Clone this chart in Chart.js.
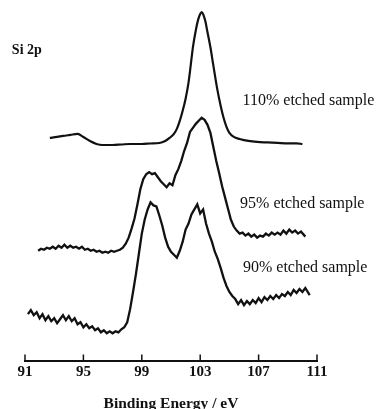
<!DOCTYPE html>
<html>
<head>
<meta charset="utf-8">
<script src="https://cdn.jsdelivr.net/npm/chart.js@4/dist/chart.umd.min.js"></script>
<style>
  html, body { margin: 0; padding: 0; background: #fff; }
  #wrap { width: 378px; height: 409px; }
</style>
</head>
<body>
<div id="wrap"><canvas id="xps_chart" width="378" height="409"></canvas></div>
<script>
// Si 2p spectra, binding energy (eV) against intensity (arbitrary units, stacked)
const energy_110 = [92.7, 93.2, 93.6, 94.1, 94.6, 95.0, 95.45, 95.9, 96.3, 97.0, 97.6, 98.2, 99.0, 99.6, 100.2,
    100.6, 100.9, 101.2, 101.4, 101.6, 101.8, 102.0, 102.2, 102.35, 102.5, 102.7, 102.85, 103.0, 103.1, 103.2,
    103.35, 103.5, 103.7, 103.9, 104.15, 104.4, 104.6, 104.8, 105.0, 105.3, 105.7, 106.3, 106.9, 107.6, 108.3,
    109.0, 109.6, 110.0]
const counts_110 = [221, 222, 223, 224, 225, 222, 218, 215, 214, 214, 214.5, 215, 215, 215.5, 216,
    218, 221, 225, 230, 238, 248, 260, 276, 293, 311, 328, 338, 344, 346, 344,
    337, 326, 311, 293, 271, 253, 241, 232, 226, 222, 220, 218, 217, 216.5, 216,
    215.5, 215.5, 215]

const energy_95 = [91.9, 92.1, 92.3, 92.5, 92.7, 92.9, 93.1, 93.3, 93.5, 93.7, 93.9, 94.1, 94.3, 94.5, 94.7,
    94.9, 95.1, 95.3, 95.5, 95.7, 95.9, 96.1, 96.3, 96.5, 96.7, 96.9, 97.1, 97.3, 97.5, 97.7,
    97.9, 98.1, 98.3, 98.5, 98.7, 98.9, 99.1, 99.3, 99.5, 99.7, 99.9, 100.1, 100.3, 100.5, 100.7,
    100.9, 101.1, 101.3, 101.5, 101.7, 101.9, 102.1, 102.3, 102.5, 102.7, 102.9, 103.1, 103.3, 103.5, 103.7,
    103.9, 104.1, 104.3, 104.5, 104.7, 104.9, 105.1, 105.3, 105.5, 105.7, 105.9, 106.1, 106.3, 106.5, 106.7,
    106.9, 107.1, 107.3, 107.5, 107.7, 107.9, 108.1, 108.3, 108.5, 108.7, 108.9, 109.1, 109.3, 109.5, 109.7,
    109.9, 110.2]
const counts_95 = [109, 111, 110, 112, 111, 113, 111, 114, 112, 115, 112, 114, 112, 113, 111,
    113, 110, 111, 109, 110, 108, 109, 107, 108, 107, 109, 108, 109, 110, 112,
    116, 122, 131, 141, 155, 170, 180, 185, 187, 185, 186, 182, 178, 175, 172,
    176, 174, 184, 190, 198, 208, 216, 227, 231, 235, 238, 241, 239, 234, 226,
    212, 198, 186, 173, 162, 151, 140, 133, 129, 126, 127, 124, 126, 123, 125,
    122, 124, 123, 126, 124, 127, 125, 127, 125, 129, 126, 130, 127, 129, 126,
    128, 123]

const energy_90 = [91.2, 91.4, 91.6, 91.8, 92.0, 92.2, 92.4, 92.6, 92.8, 93.0, 93.2, 93.4, 93.6, 93.8, 94.0,
    94.2, 94.4, 94.6, 94.8, 95.0, 95.2, 95.4, 95.6, 95.8, 96.0, 96.2, 96.4, 96.6, 96.8, 97.0,
    97.2, 97.4, 97.6, 97.8, 98.0, 98.2, 98.4, 98.6, 98.8, 99.0, 99.2, 99.4, 99.6, 99.8, 100.0,
    100.2, 100.4, 100.6, 100.8, 101.0, 101.2, 101.4, 101.6, 101.8, 102.0, 102.2, 102.4, 102.6, 102.8, 103.0,
    103.2, 103.4, 103.6, 103.8, 104.0, 104.2, 104.4, 104.6, 104.8, 105.0, 105.2, 105.4, 105.6, 105.8, 106.0,
    106.2, 106.4, 106.6, 106.8, 107.0, 107.2, 107.4, 107.6, 107.8, 108.0, 108.2, 108.4, 108.6, 108.8, 109.0,
    109.2, 109.4, 109.6, 109.8, 110.0, 110.2, 110.5]
const counts_90 = [46, 50, 45, 48, 42, 46, 40, 44, 39, 42, 37, 41, 45, 40, 44,
    39, 42, 36, 38, 33, 36, 32, 34, 30, 32, 28, 30, 27, 29, 27,
    29, 28, 31, 33, 38, 51, 68, 86, 106, 126, 140, 150, 157, 154, 153,
    144, 134, 122, 113, 108, 105, 102, 109, 118, 130, 136, 145, 150, 155, 146,
    150, 136, 126, 118, 108, 101, 92, 82, 74, 68, 64, 61, 56, 60, 55,
    59, 56, 60, 57, 62, 58, 63, 60, 64, 61, 65, 62, 66, 64, 68,
    65, 70, 67, 71, 68, 72, 65]

const energy_ticks = [91, 95, 99, 103, 107, 111]
const sample_labels = ['110% etched sample', '95% etched sample', '90% etched sample']
const line_label = 'Si 2p'

const ink = '#111'
const serif = "'Liberation Serif', 'DejaVu Serif', serif"

function to_points(xs, ys)
{
    return xs.map((x, i) => ({x: x, y: ys[i]}))
}

// tick marks point up into the plot, like on the original figure
const up_ticks = {
    id: 'up_ticks',
    afterDraw(chart)
    {
        const xs = chart.scales.x
        const c = chart.ctx
        const base = chart.chartArea.bottom
        c.save()
        c.strokeStyle = ink
        c.lineWidth = 1.5
        energy_ticks.forEach(v => {
            const px = xs.getPixelForValue(v)
            c.beginPath()
            c.moveTo(px, base)
            c.lineTo(px, base - 6)
            c.stroke()
        })
        c.restore()
    }
}

// text written next to each trace
const trace_notes = {
    id: 'trace_notes',
    afterDatasetsDraw(chart)
    {
        const xs = chart.scales.x
        const ys = chart.scales.y
        const c = chart.ctx
        c.save()
        c.fillStyle = ink
        c.textBaseline = 'middle'
        c.textAlign = 'left'
        c.font = `bold 14px ${serif}`
        c.fillText(line_label, xs.getPixelForValue(90.1), ys.getPixelForValue(308))
        c.font = `16px ${serif}`
        const spots = [[105.9, 258], [105.73, 156], [105.93, 92]]
        sample_labels.forEach((t, i) => {
            c.fillText(t, xs.getPixelForValue(spots[i][0]), ys.getPixelForValue(spots[i][1]))
        })
        c.restore()
    }
}

const ctx = document.getElementById('xps_chart').getContext('2d')
const xps_chart = new Chart(ctx, {
    type: 'line',
    data: {
        datasets: [
            {label: '110%', data: to_points(energy_110, counts_110), borderColor: ink, borderWidth: 2.2,
             pointRadius: 0, cubicInterpolationMode: 'monotone'},
            {label: '95%', data: to_points(energy_95, counts_95), borderColor: ink, borderWidth: 2.3,
             pointRadius: 0, tension: 0},
            {label: '90%', data: to_points(energy_90, counts_90), borderColor: ink, borderWidth: 2.3,
             pointRadius: 0, tension: 0}
        ]
    },
    options: {
        responsive: false,
        animation: false,
        layout: {padding: {left: 25, right: 61, top: 5, bottom: -3}},
        plugins: {legend: {display: false}, tooltip: {enabled: false}},
        scales: {
            x: {
                type: 'linear',
                min: 91,
                max: 111,
                afterBuildTicks: axis => { axis.ticks = energy_ticks.map(v => ({value: v})) },
                ticks: {color: ink, padding: 4, font: {family: serif, size: 15, weight: 'bold', lineHeight: 1}},
                grid: {drawOnChartArea: false, drawTicks: false},
                border: {display: true, color: ink, width: 2},
                title: {display: true, text: 'Binding Energy / eV', color: ink,
                        font: {family: serif, size: 15.5, weight: 'bold', lineHeight: 1}, padding: {top: 13, bottom: 0}}
            },
            y: {display: false, min: 0, max: 353}
        }
    },
    plugins: [up_ticks, trace_notes]
})
</script>
</body>
</html>
